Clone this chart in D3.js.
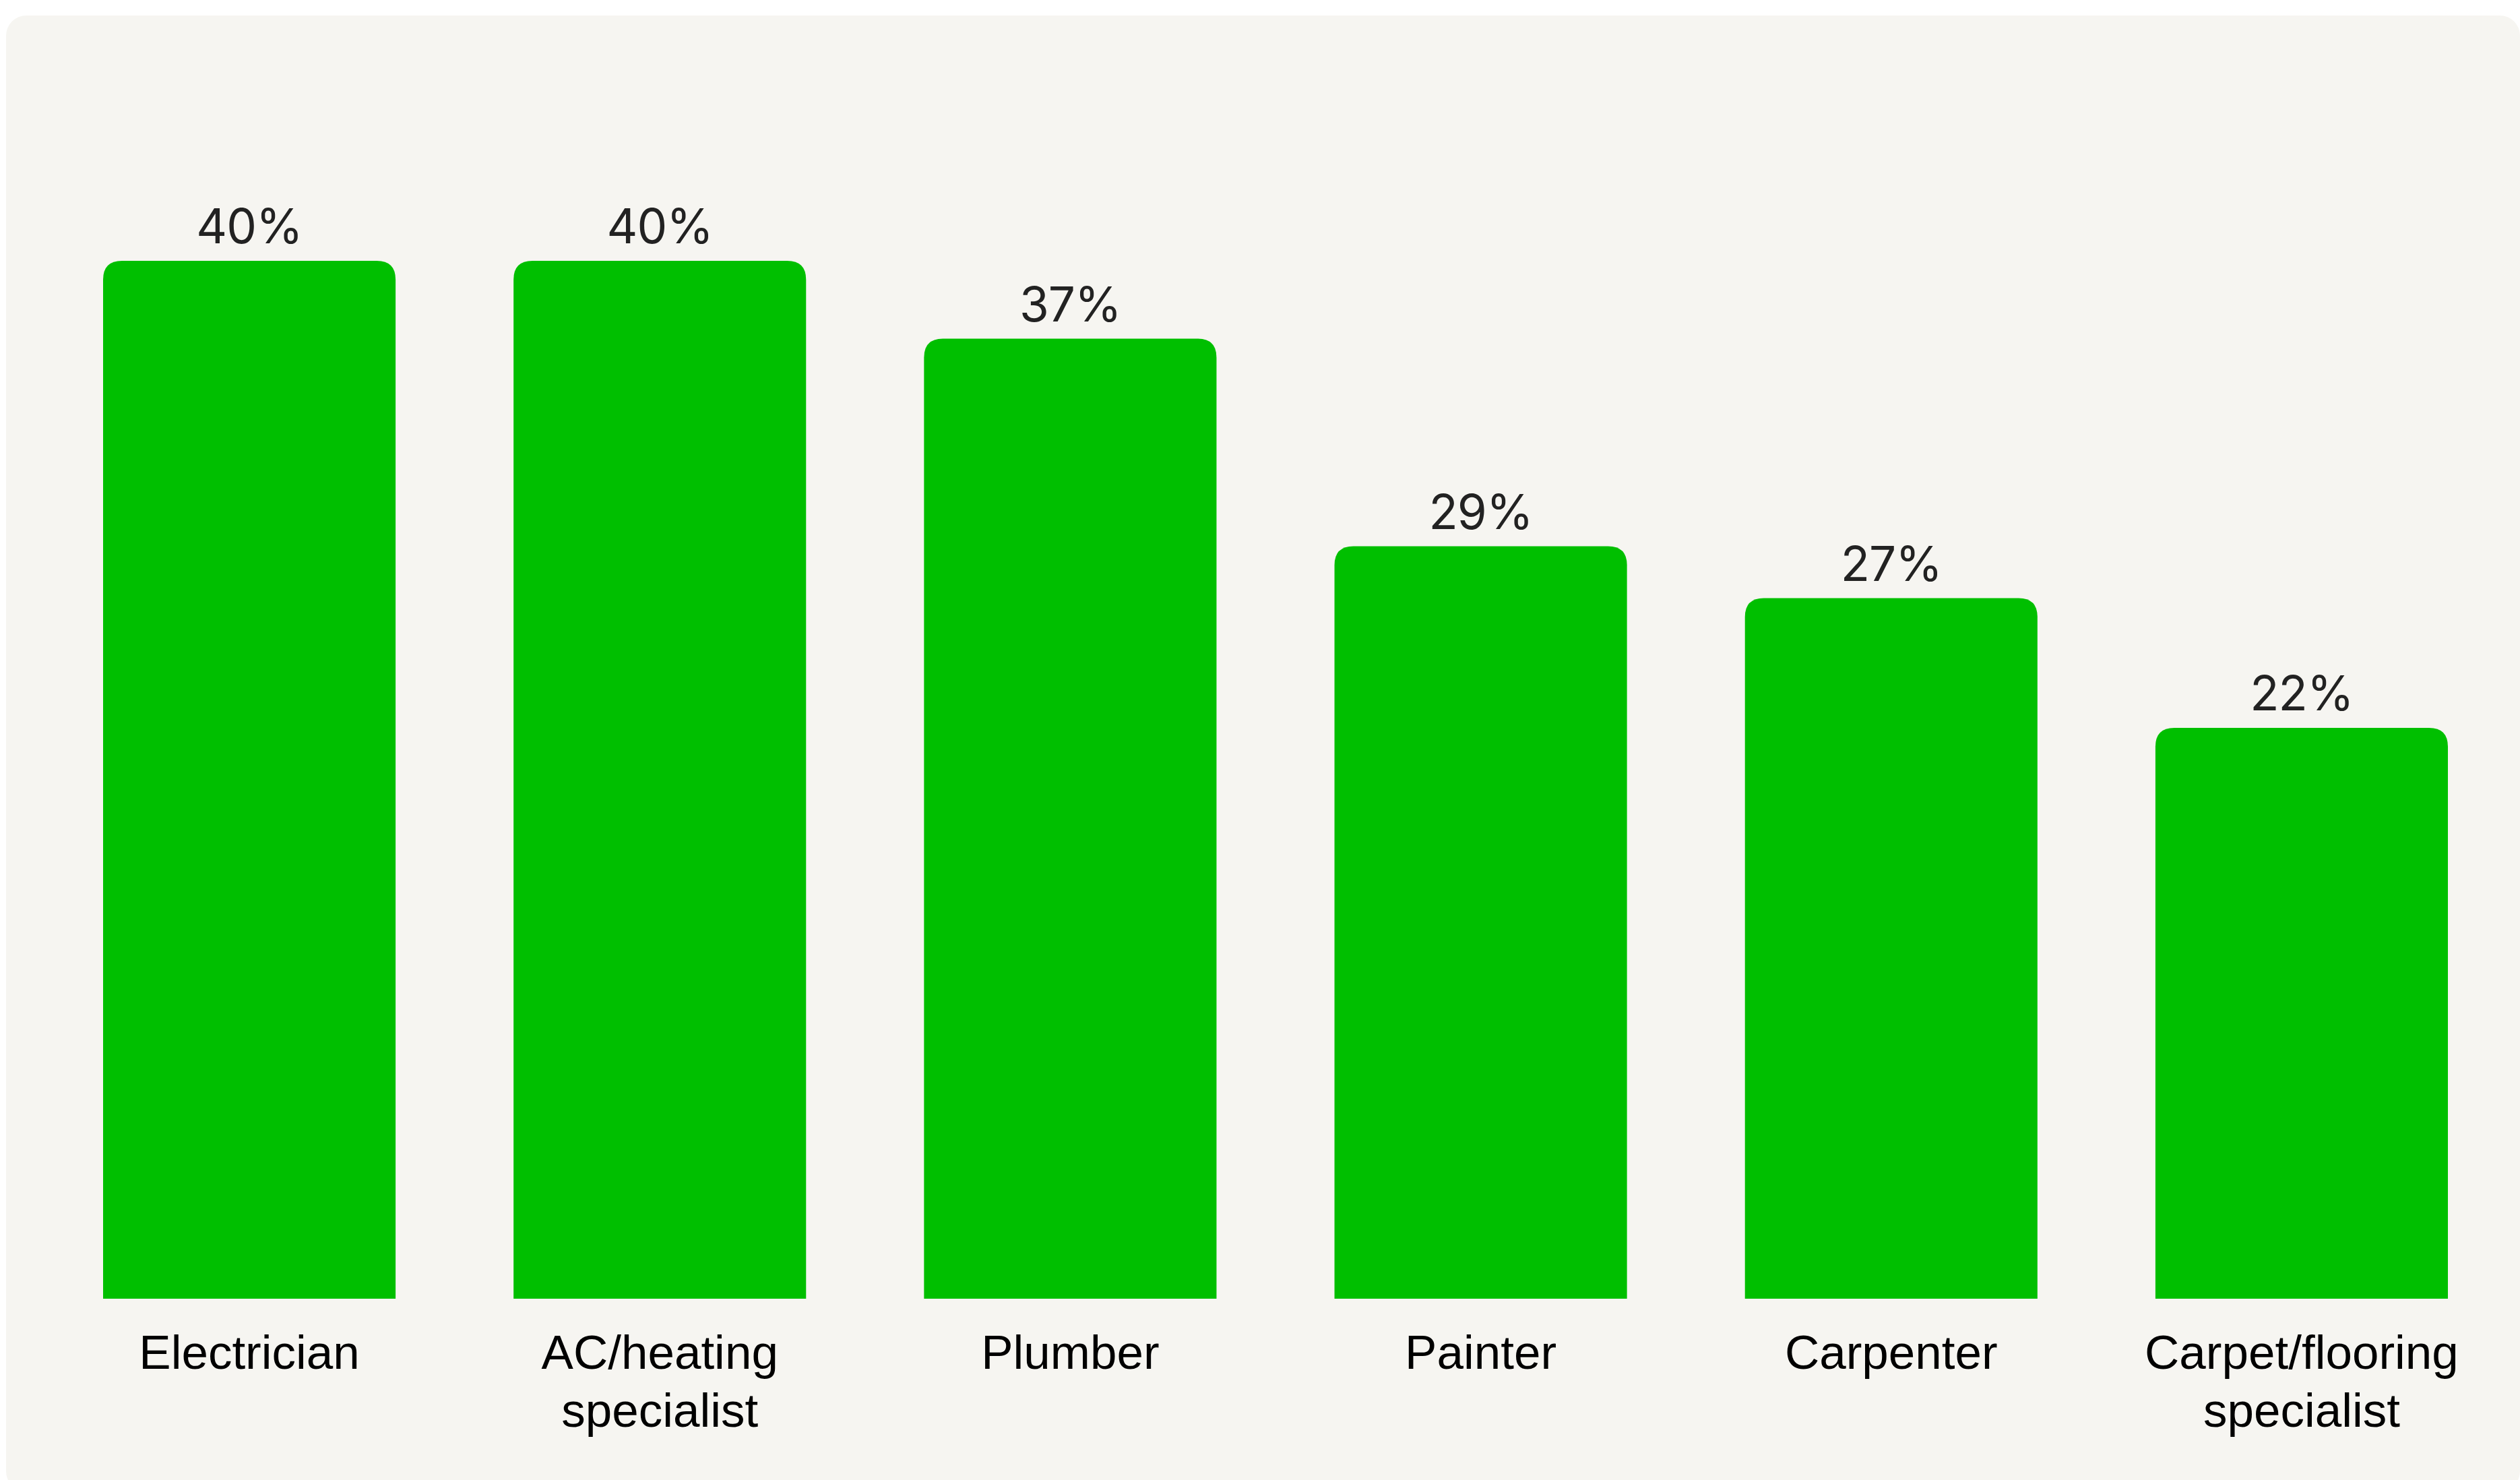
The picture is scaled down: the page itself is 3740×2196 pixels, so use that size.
<!DOCTYPE html>
<html>
<head>
<meta charset="utf-8">
<script src="https://cdn.jsdelivr.net/npm/d3@7"></script>
<style>
    html, body { margin: 0; padding: 0; background: #ffffff; }
    svg { display: block; }
</style>
</head>
<body>
<div id="chart"></div>
<script>
// bar chart values
const categories = ["Electrician", "AC/heating specialist", "Plumber", "Painter", "Carpenter", "Carpet/flooring specialist"];
const labelLines = [["Electrician"], ["AC/heating", "specialist"], ["Plumber"], ["Painter"], ["Carpenter"], ["Carpet/flooring", "specialist"]];
const shares = [40, 40, 37, 29, 27, 22];

const W = 3740, H = 2196;
const svg = d3.select("#chart").append("svg")
    .attr("width", W)
    .attr("height", H);

// panel background
svg.append("rect")
    .attr("x", 9)
    .attr("y", 23)
    .attr("width", W - 9)
    .attr("height", 2190)
    .attr("rx", 30)
    .attr("fill", "#f6f5f1");

// scales
const x = d3.scaleBand()
    .domain(categories)
    .range([153, 3633])
    .paddingInner(0.2874)
    .paddingOuter(0);

const y = d3.scaleLinear()
    .domain([0, 40])
    .range([1927, 387]);

const r = 28;

// bar path with rounded top corners only
function barPath(d) {
    const x0 = x(d.cat), w = x.bandwidth();
    const top = y(d.value), base = y(0);
    return `M${x0},${base}
            V${top + r}
            Q${x0},${top} ${x0 + r},${top}
            H${x0 + w - r}
            Q${x0 + w},${top} ${x0 + w},${top + r}
            V${base} Z`;
}

const data = categories.map((c, i) => ({cat: c, value: shares[i], lines: labelLines[i]}));

svg.append("g").selectAll("path")
    .data(data)
    .enter()
    .append("path")
    .attr("d", barPath)
    .attr("fill", "#00bf00");

// value labels
svg.append("g").selectAll("text")
    .data(data)
    .enter()
    .append("text")
    .attr("x", d => x(d.cat) + x.bandwidth() / 2)
    .attr("y", d => y(d.value) - 26)
    .attr("text-anchor", "middle")
    .style("font-family", "Inter, 'Noto Sans', sans-serif")
    .style("font-size", "71px")
    .style("letter-spacing", "-1px")
    .style("fill", "#222222")
    .text(d => d.value + "%");

// category labels
const xLabels = svg.append("g").selectAll("text")
    .data(data)
    .enter()
    .append("text")
    .attr("text-anchor", "middle")
    .style("font-family", "'Liberation Sans', Arial, sans-serif")
    .style("font-size", "71px")
    .style("fill", "#000000");

xLabels.each(function (d) {
    const t = d3.select(this);
    d.lines.forEach((line, j) => {
        t.append("tspan")
            .attr("x", x(d.cat) + x.bandwidth() / 2)
            .attr("y", 2031 + j * 86)
            .text(line);
    });
});
</script>
</body>
</html>
